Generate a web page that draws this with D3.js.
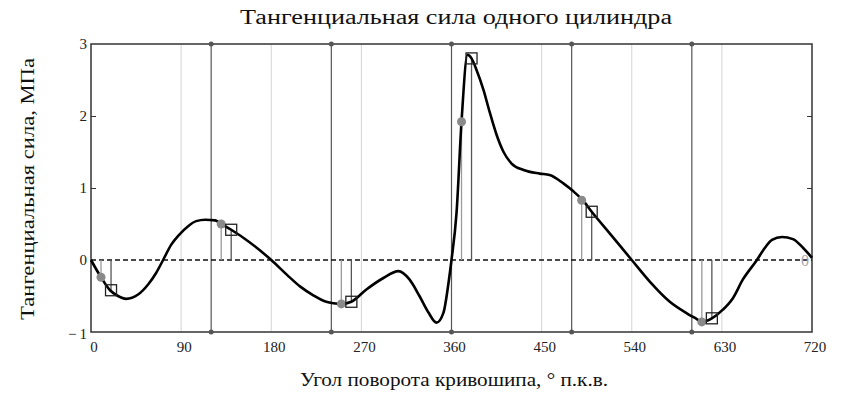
<!DOCTYPE html>
<html><head><meta charset="utf-8">
<script src="https://cdn.jsdelivr.net/npm/d3@7"></script>
<style>
html,body{margin:0;padding:0;background:#fff;}
svg text{font-family:"Times New Roman","Liberation Serif","DejaVu Serif",serif;}
</style></head>
<body>
<svg id="chart" width="843" height="404"></svg>
<script>
const angles = [0,10,19,27,35,47,57,65,72,80,88,97,105,114,124,130,140,159,180,196,209,222,235,242,250,260,275,292,307,318,328,337,345,352,357,360,365,370,376,380,385,392,398,405,412,420,432,448,458,472,482,491,500,518,540,558,578,595,605,610,620,631,641,651,665,673,680,690,701,711,720];
const forces = [0,-0.24,-0.42,-0.50,-0.54,-0.48,-0.34,-0.18,0,0.21,0.35,0.47,0.54,0.56,0.55,0.50,0.42,0.24,0,-0.21,-0.37,-0.49,-0.58,-0.60,-0.61,-0.58,-0.41,-0.25,-0.155,-0.27,-0.50,-0.73,-0.87,-0.73,-0.32,0,0.65,1.92,2.85,2.80,2.64,2.36,2.06,1.74,1.50,1.34,1.25,1.20,1.18,1.06,0.95,0.83,0.67,0.37,0,-0.30,-0.58,-0.74,-0.82,-0.86,-0.81,-0.69,-0.53,-0.27,0,0.17,0.28,0.32,0.29,0.17,0.03];
const dotAngles = [10,130,250,370,490,610];
const dotValues = [-0.24,0.50,-0.61,1.92,0.83,-0.86];
const squareAngles = [20,140,260,380,500,620];
const squareValues = [-0.42,0.42,-0.58,2.80,0.67,-0.81];
const cylinderLines = [120,240,360,480,600];
const gridLines = [90,180,270,450,540,630];
const xTicks = [0,90,180,270,360,450,540,630,720];
const yTicks = [-1,0,1,2,3];
const innerTicks = [1,2];
const title = "Тангенциальная сила одного цилиндра";
const xTitle = "Угол поворота кривошипа, ° п.к.в.";
const yTitle = "Тангенциальная сила, МПа";

const svg = d3.select("#chart");
const L=91, R=812, T=44, B=332;
const x = d3.scaleLinear().domain([0,720]).range([L,R]);
const y = d3.scaleLinear().domain([-1,3]).range([B,T]);

// light grid
svg.append("g").selectAll("line").data(gridLines).join("line")
  .attr("x1",d=>x(d)).attr("x2",d=>x(d)).attr("y1",T).attr("y2",B)
  .attr("stroke","#d4d4d4").attr("stroke-width",1);
// cylinder lines
svg.append("g").selectAll("line").data(cylinderLines).join("line")
  .attr("x1",d=>x(d)).attr("x2",d=>x(d)).attr("y1",T).attr("y2",B)
  .attr("stroke","#555").attr("stroke-width",1.2);

// border
svg.append("rect").attr("x",L).attr("y",T).attr("width",R-L).attr("height",B-T)
  .attr("fill","none").attr("stroke","#333").attr("stroke-width",1.5);

// axes (ticks inward)
const yLeft = d3.axisRight(y).tickValues(innerTicks).tickSize(5).tickFormat("");
svg.append("g").attr("transform",`translate(${L},0)`).call(yLeft)
  .call(g=>g.select(".domain").remove()).selectAll("line").attr("stroke","#333");
const yRight = d3.axisLeft(y).tickValues(innerTicks).tickSize(5).tickFormat("");
svg.append("g").attr("transform",`translate(${R},0)`).call(yRight)
  .call(g=>g.select(".domain").remove()).selectAll("line").attr("stroke","#333");

// tick labels
const fmt = d => d<0 ? "\u2212\u2009"+Math.abs(d) : String(d);
svg.append("g").selectAll("text").data(yTicks).join("text")
  .attr("x",L-4).attr("y",d=>y(d)+ (d===-1?2:0)).attr("dy","0.35em").attr("text-anchor","end")
  .attr("font-size",15).attr("fill","#222").text(fmt);
svg.append("g").selectAll("text").data(xTicks).join("text")
  .attr("x",d=>x(d)+3).attr("y",B+20).attr("text-anchor","middle")
  .attr("font-size",15).attr("fill","#222").text(d=>d);

// zero dashed line
svg.append("line").attr("x1",L).attr("x2",R).attr("y1",y(0)).attr("y2",y(0))
  .attr("stroke","#111").attr("stroke-width",1.5).attr("stroke-dasharray","5,3");

// stems
svg.append("g").selectAll("line").data(dotAngles).join("line")
  .attr("x1",d=>x(d)).attr("x2",d=>x(d)).attr("y1",y(0)).attr("y2",(d,i)=>y(dotValues[i]))
  .attr("stroke","#9a9a9a").attr("stroke-width",1.3);
svg.append("g").selectAll("line").data(squareAngles).join("line")
  .attr("x1",d=>x(d)).attr("x2",d=>x(d)).attr("y1",y(0)).attr("y2",(d,i)=>y(squareValues[i]))
  .attr("stroke","#555").attr("stroke-width",1.3);

// curve
const pts = angles.map((a,i)=>[a,forces[i]]);
svg.append("path").datum(pts)
  .attr("d", d3.line().x(d=>x(d[0])).y(d=>y(d[1])).curve(d3.curveMonotoneX))
  .attr("fill","none").attr("stroke","#000").attr("stroke-width",2.6).attr("stroke-linejoin","round");

// cylinder line end markers
cylinderLines.forEach(a=>{
  [T,B].forEach(yy=>svg.append("circle").attr("cx",x(a)).attr("cy",yy).attr("r",2.5).attr("fill","#555"));
});

// dots
svg.append("g").selectAll("circle").data(dotAngles).join("circle")
  .attr("cx",d=>x(d)).attr("cy",(d,i)=>y(dotValues[i])).attr("r",4.5).attr("fill","#8a8a8a");
// squares
svg.append("g").selectAll("rect").data(squareAngles).join("rect")
  .attr("x",d=>x(d)-5.5).attr("y",(d,i)=>y(squareValues[i])-5.5).attr("width",11).attr("height",11)
  .attr("fill","none").attr("stroke","#222").attr("stroke-width",1.3);

// "0" label at right end
svg.append("text").attr("x",x(720)-7).attr("y",y(0)).attr("dy","0.35em").attr("text-anchor","middle")
  .attr("font-size",16).attr("fill","#a8a8a8").text("0");

// titles
svg.append("text").attr("x",456).attr("y",24).attr("text-anchor","middle")
  .attr("font-size",20).attr("fill","#111").attr("textLength",432).attr("lengthAdjust","spacingAndGlyphs").text(title);
svg.append("text").attr("x",454).attr("y",386).attr("text-anchor","middle")
  .attr("font-size",19).attr("fill","#111").attr("textLength",308).attr("lengthAdjust","spacingAndGlyphs").text(xTitle);
svg.append("text").attr("transform",`translate(34,189) rotate(-90)`).attr("text-anchor","middle")
  .attr("font-size",19).attr("fill","#111").attr("textLength",262).attr("lengthAdjust","spacingAndGlyphs").text(yTitle);
</script>
</body></html>
